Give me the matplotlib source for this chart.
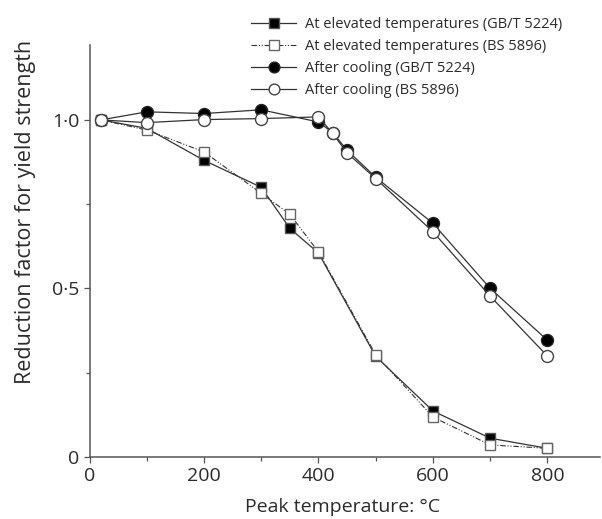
import matplotlib
matplotlib.use("Agg")
import matplotlib.pyplot as plt
from matplotlib.ticker import FixedLocator, FixedFormatter

plt.rcParams["font.family"] = ["Open Sans", "DejaVu Sans"]

# peak temperature (degC) and reduction factors
temps_elev = [20, 100, 200, 300, 350, 400, 500, 600, 700, 800]
elev_gb = [1.0, 0.975, 0.88, 0.80, 0.678, 0.605, 0.298, 0.136, 0.055, 0.025]
elev_bs = [1.0, 0.97, 0.905, 0.782, 0.72, 0.608, 0.303, 0.118, 0.035, 0.025]

temps_cool = [20, 100, 200, 300, 400, 425, 450, 500, 600, 700, 800]
cool_gb = [1.0, 1.024, 1.019, 1.03, 0.994, 0.962, 0.91, 0.83, 0.693, 0.50, 0.346]
cool_bs = [1.0, 0.992, 1.001, 1.004, 1.009, 0.96, 0.902, 0.826, 0.668, 0.477, 0.299]

labels = [
    "At elevated temperatures (GB/T 5224)",
    "At elevated temperatures (BS 5896)",
    "After cooling (GB/T 5224)",
    "After cooling (BS 5896)",
]
xticks = [0, 200, 400, 600, 800]
yticks = [0, 0.5, 1.0]
ytick_labels = ["0", "0·5", "1·0"]

TXT = "#2b2b2b"
LINE = "#333333"

fig = plt.figure(figsize=(6.02, 5.19), dpi=100)
ax = fig.add_axes([0.1487, 0.12, 0.848, 0.793])

ax.plot(temps_elev, elev_gb, "-", color=LINE, lw=0.9, marker="s", ms=7.8,
        mfc="black", mec="#555555", mew=1.0, label=labels[0], zorder=3)
ax.plot(temps_elev, elev_bs, color=LINE, lw=0.8, ls=(0, (5, 1.6, 1, 1.6, 1, 1.6)),
        marker="s", ms=7.8, mfc="white", mec="#666666", mew=1.0,
        label=labels[1], zorder=4)
ax.plot(temps_cool, cool_gb, "-", color=LINE, lw=0.9, marker="o", ms=8.6,
        mfc="black", mec="#222222", mew=1.0, label=labels[2], zorder=5)
ax.plot(temps_cool, cool_bs, "-", color=LINE, lw=0.9, marker="o", ms=8.6,
        mfc="white", mec="#444444", mew=1.0, label=labels[3], zorder=6)

ax.set_xlim(0, 892)
ax.set_ylim(0, 1.222)

for s in ("top", "right"):
    ax.spines[s].set_visible(False)
for s in ("left", "bottom"):
    ax.spines[s].set_color("#555555")
    ax.spines[s].set_linewidth(1.1)

ax.xaxis.set_major_locator(FixedLocator(xticks))
ax.xaxis.set_minor_locator(FixedLocator([100, 300, 500, 700]))
ax.yaxis.set_major_locator(FixedLocator(yticks))
ax.yaxis.set_major_formatter(FixedFormatter(ytick_labels))
ax.yaxis.set_minor_locator(FixedLocator([0.25, 0.75]))
ax.tick_params(which="major", length=4.5, width=0.9, color="#555555",
               labelsize=14, labelcolor=TXT, pad=3)
ax.tick_params(which="minor", length=3, width=0.9, color="#555555")

ax.set_xlabel("Peak temperature: °C", fontsize=14, color=TXT, va="center")
ax.set_ylabel("Reduction factor for yield strength", fontsize=15.5, color=TXT,
              va="center")
ax.xaxis.set_label_coords(0.496, -0.122)
ax.yaxis.set_label_coords(-0.125, 0.595)

leg = ax.legend(loc="upper left", bbox_to_anchor=(0.305, 1.082), frameon=False,
                fontsize=10.5, handlelength=3.1, handletextpad=0.6,
                labelspacing=0.48, markerscale=0.9, borderaxespad=0)
for t in leg.get_texts():
    t.set_color(TXT)

fig.savefig("out.png", dpi=100)
